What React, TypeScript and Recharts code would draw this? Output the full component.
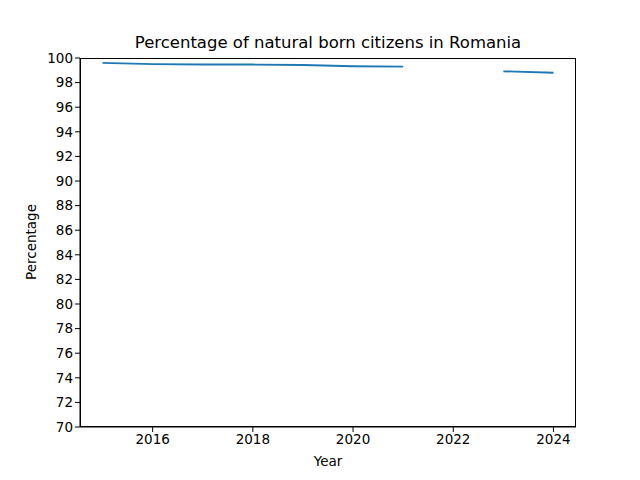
import { LineChart, Line, XAxis, YAxis } from 'recharts';

const years = [2015, 2016, 2017, 2018, 2019, 2020, 2021, 2022, 2023, 2024];
const percentages: (number | null)[] = [99.6, 99.5, 99.47, 99.47, 99.43, 99.33, 99.3, null, 98.92, 98.8];
const xTicks = [2016, 2018, 2020, 2022, 2024];
const yTicks = [70, 72, 74, 76, 78, 80, 82, 84, 86, 88, 90, 92, 94, 96, 98, 100];

const data = years.map((year, i) => ({ year, pct: percentages[i] }));

const font = 'DejaVu Sans, sans-serif';
const tickStyle = { fontSize: 13.5, fill: '#000', fontFamily: font };

export default function App() {
  return (
    <div style={{ position: 'absolute', left: 0, top: 0, width: 640, height: 480, background: '#fff', fontFamily: font }}>
      <LineChart width={640} height={480} data={data} margin={{ top: 58, right: 64, bottom: 23, left: 30 }}>
        <XAxis
          dataKey="year"
          type="number"
          domain={[2014.55, 2024.45]}
          ticks={xTicks}
          allowDataOverflow
          height={30}
          tick={tickStyle}
          tickSize={5}
          stroke="#000"
        />
        <YAxis
          type="number"
          domain={[70, 100]}
          ticks={yTicks}
          interval={0}
          width={50}
          tick={tickStyle}
          tickSize={5}
          stroke="#000"
        />
        <Line
          dataKey="pct"
          stroke="#1f77b4"
          strokeWidth={1.8}
          dot={false}
          connectNulls={false}
          isAnimationActive={false}
        />
      </LineChart>
      <div style={{ position: 'absolute', left: 80, top: 58, width: 496, height: 369, border: '1px solid #000', boxSizing: 'border-box', pointerEvents: 'none' }} />
      <div style={{ position: 'absolute', left: 80, width: 496, top: 33, textAlign: 'center', fontSize: 16.5 }}>
        Percentage of natural born citizens in Romania
      </div>
      <div style={{ position: 'absolute', left: 80, width: 496, top: 453, textAlign: 'center', fontSize: 13.5 }}>
        Year
      </div>
      <div style={{ position: 'absolute', left: 31, top: 242, fontSize: 13.5, transform: 'translate(-50%, -50%) rotate(-90deg)', whiteSpace: 'nowrap' }}>
        Percentage
      </div>
    </div>
  );
}
